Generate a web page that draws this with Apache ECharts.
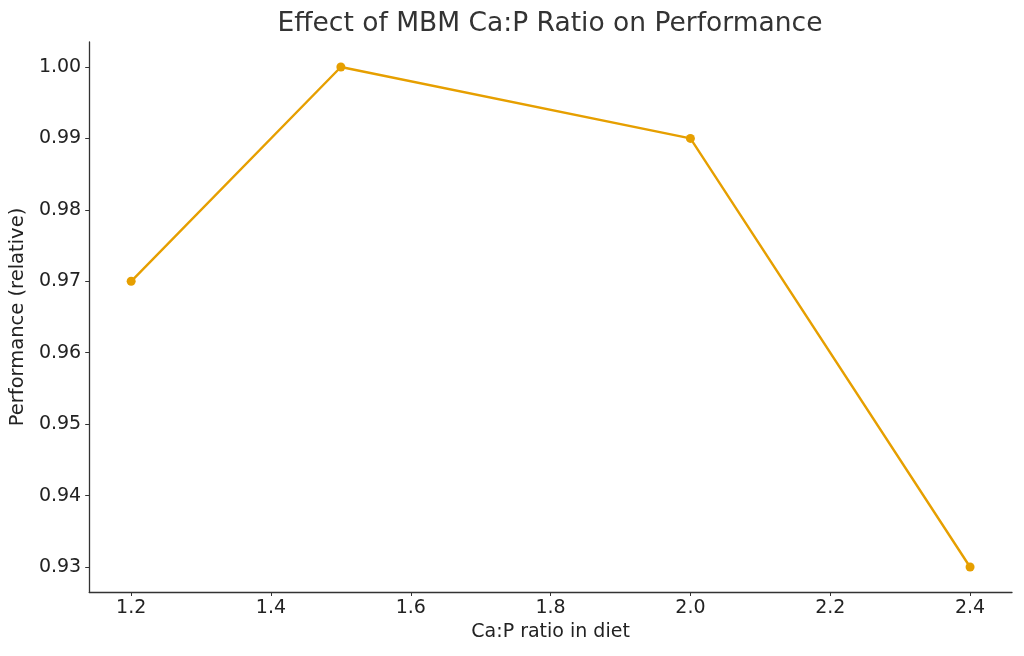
<!DOCTYPE html>
<html>
<head>
<meta charset="utf-8">
<script src="https://cdn.jsdelivr.net/npm/echarts@6/dist/echarts.min.js"></script>
<style>
html,body{margin:0;padding:0;background:#fff;}
#chart{width:1024px;height:656px;}
</style>
</head>
<body>
<div id="chart"></div>
<script>
// data
var ratio = [1.2, 1.5, 2.0, 2.4];
var perf = [0.97, 1.00, 0.99, 0.93];
var xTicks = [1.2, 1.4, 1.6, 1.8, 2.0, 2.2, 2.4];
var yTicks = [0.93, 0.94, 0.95, 0.96, 0.97, 0.98, 0.99, 1.00];

var font = "DejaVu Sans";
var chart = echarts.init(document.getElementById("chart"));
var option = {
	backgroundColor: "#fff",
	animation: false,
	// title sits over the middle of the plot area, not the page
	title: {
		text: "Effect of MBM Ca:P Ratio on Performance",
		left: 545,
		textAlign: "center",
		top: 6,
		textStyle: {fontFamily: font, fontSize: 26.5, fontWeight: "normal", color: "#333"}
	},
	grid: {left: 88, right: 12, top: 42, bottom: 64},
	xAxis: {
		type: "value",
		min: 1.14,
		max: 2.46,
		name: "Ca:P ratio in diet",
		nameLocation: "middle",
		nameGap: 31,
		nameTextStyle: {fontFamily: font, fontSize: 19, color: "#222"},
		axisLine: {onZero: false, lineStyle: {color: "#333", width: 1.3}},
		axisTick: {show: true, length: 4, customValues: xTicks, lineStyle: {color: "#333"}},
		axisLabel: {
			customValues: xTicks,
			fontFamily: font, fontSize: 19, color: "#222", margin: 7,
			formatter: function(v){ return v.toFixed(1); }
		},
		splitLine: {show: false}
	},
	yAxis: {
		type: "value",
		min: 0.9265,
		max: 1.0035,
		name: "Performance (relative)",
		nameLocation: "middle",
		nameGap: 60,
		nameTextStyle: {fontFamily: font, fontSize: 19.5, color: "#222"},
		axisLine: {show: true, onZero: false, lineStyle: {color: "#333", width: 1.3}},
		axisTick: {show: true, length: 4, customValues: yTicks, lineStyle: {color: "#333"}},
		axisLabel: {
			customValues: yTicks,
			fontFamily: font, fontSize: 19, color: "#222", margin: 8,
			formatter: function(v){ return v.toFixed(2); }
		},
		splitLine: {show: false}
	},
	series: [{
		type: "line",
		data: ratio.map(function(x, i){ return [x, perf[i]]; }),
		symbol: "circle",
		symbolSize: 9,
		lineStyle: {color: "#E69F00", width: 2.4},
		itemStyle: {color: "#E69F00"}
	}]
};
chart.setOption(option);
</script>
</body>
</html>
